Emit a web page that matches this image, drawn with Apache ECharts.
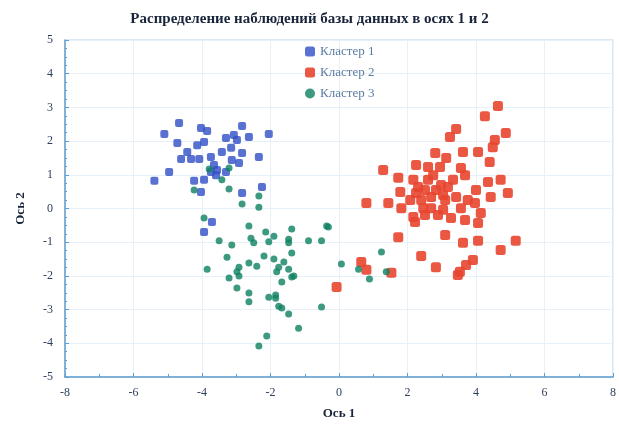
<!DOCTYPE html>
<html>
<head>
<meta charset="utf-8">
<script src="https://cdn.jsdelivr.net/npm/echarts@6/dist/echarts.min.js"></script>
<style>
    html, body { margin: 0; padding: 0; background: #ffffff; }
    #chart { width: 619px; height: 425px; }
</style>
</head>
<body>
<div id="chart"></div>
<script>
// Распределение наблюдений по осям 1 и 2
var seriesNames = ['Кластер 1', 'Кластер 2', 'Кластер 3'];

var cluster1 = [
    [-4.67, 2.54], [-5.10, 2.21], [-4.03, 2.39], [-3.85, 2.30], [-2.83, 2.45],
    [-4.72, 1.94], [-4.43, 1.68], [-4.14, 1.88], [-3.94, 1.97], [-3.30, 2.09],
    [-3.07, 2.18], [-2.98, 2.03], [-2.63, 2.12], [-2.05, 2.21], [-4.61, 1.47],
    [-4.32, 1.47], [-4.08, 1.47], [-3.74, 1.53], [-3.65, 1.29], [-3.42, 1.68],
    [-3.15, 1.80], [-2.83, 1.65], [-2.34, 1.53], [-3.13, 1.44], [-2.92, 1.35],
    [-3.56, 1.14], [-3.74, 1.08], [-3.30, 1.08], [-4.96, 1.08], [-5.39, 0.82],
    [-4.23, 0.82], [-3.94, 0.85], [-2.83, 0.46], [-2.25, 0.64], [-4.03, 0.49],
    [-3.59, 0.99], [-3.71, -0.40], [-3.94, -0.70]
];

var cluster2 = [
    [4.64, 3.04], [4.26, 2.74], [3.42, 2.36], [3.24, 2.12], [4.87, 2.24],
    [4.55, 2.03], [4.49, 1.82], [3.62, 1.68], [4.06, 1.68], [2.81, 1.65],
    [3.13, 1.50], [4.40, 1.38], [2.25, 1.29], [2.60, 1.23], [2.95, 1.23],
    [3.56, 1.20], [3.68, 0.99], [1.29, 1.14], [1.73, 0.91], [4.72, 0.85],
    [4.35, 0.79], [2.98, 0.70], [2.60, 0.85], [2.17, 0.85], [3.18, 0.64],
    [4.00, 0.55], [1.79, 0.49], [2.25, 0.46], [2.51, 0.55], [2.83, 0.55],
    [4.93, 0.46], [4.43, 0.34], [0.80, 0.16], [1.44, 0.16], [2.08, 0.25],
    [2.40, 0.25], [2.69, 0.34], [3.10, 0.25], [3.42, 0.34], [3.76, 0.25],
    [3.97, 0.16], [1.82, 0.01], [2.46, 0.01], [2.69, 0.01], [3.04, -0.04],
    [3.56, 0.01], [4.14, -0.13], [2.17, -0.25], [2.51, -0.19], [2.89, -0.19],
    [3.27, -0.28], [3.68, -0.34], [4.06, -0.43], [2.22, -0.40], [3.10, -0.79],
    [1.73, -0.85], [3.62, -1.02], [4.06, -0.96], [5.16, -0.96], [4.72, -1.23],
    [2.40, -1.41], [2.83, -1.74], [3.91, -1.53], [3.71, -1.68], [3.53, -1.88],
    [3.47, -1.97], [0.65, -1.59], [0.80, -1.82], [1.53, -1.91], [-0.07, -2.33],
    [2.75, 0.99], [3.33, 0.85], [2.31, 0.64], [3.04, 0.40]
];

var cluster3 = [
    [-2.83, 0.13], [-2.34, 0.04], [-3.94, -0.28], [-2.63, -0.52], [-0.36, -0.52],
    [-1.38, -0.61], [-2.14, -0.70], [-1.90, -0.82], [-2.57, -0.88], [-2.49, -1.02],
    [-2.05, -0.99], [-1.47, -0.91], [-1.47, -1.02], [-3.50, -0.96], [-0.89, -0.96],
    [-0.51, -0.96], [-3.13, -1.08], [-1.38, -1.32], [-3.27, -1.45], [-2.19, -1.41],
    [-1.90, -1.50], [-1.61, -1.59], [-3.85, -1.80], [-2.92, -1.74], [-2.63, -1.62],
    [-2.40, -1.71], [-2.98, -1.88], [-1.76, -1.74], [-1.47, -1.80], [-1.82, -1.88],
    [-1.32, -2.00], [0.07, -1.65], [0.57, -1.80], [-3.21, -2.06], [-2.92, -2.00],
    [-1.67, -2.18], [-1.38, -2.03], [-2.98, -2.36], [-2.63, -2.51], [-2.05, -2.63],
    [-1.85, -2.57], [-2.63, -2.77], [-1.85, -2.66], [-1.76, -2.90], [-1.67, -2.95],
    [-0.51, -2.92], [-1.47, -3.13], [-1.18, -3.55], [-2.11, -3.78], [-2.34, -4.08],
    [-3.79, 1.17], [-3.21, 1.20], [-3.42, 0.85], [-4.23, 0.55], [-3.21, 0.58],
    [-2.34, 0.37], [-0.31, -0.55], [1.24, -1.29], [0.89, -2.09], [1.38, -1.88]
];

var xMin = -8, xMax = 8, xStep = 2;
var yMin = -5, yMax = 5, yStep = 1;

var serif = '"Liberation Serif", "DejaVu Serif", serif';
var axisColor = '#5f9fcf';
var labelColor = '#2e3f5c';

var myChart = echarts.init(document.getElementById('chart'));
var option = {
    backgroundColor: '#ffffff',
    animation: false,
    title: {
        text: 'Распределение наблюдений базы данных в осях 1 и 2',
        left: 'center',
        top: 7,
        textStyle: {
            fontFamily: serif,
            fontWeight: 'bold',
            fontSize: 15,
            color: '#18243a'
        }
    },
    legend: {
        orient: 'vertical',
        left: 300,
        top: 40,
        itemGap: 8,
        itemWidth: 10,
        itemHeight: 10,
        textStyle: { fontFamily: serif, fontSize: 13, color: '#5a7ca0' },
        data: [
            { name: seriesNames[0], icon: 'roundRect' },
            { name: seriesNames[1], icon: 'roundRect' },
            { name: seriesNames[2], icon: 'circle' }
        ]
    },
    grid: {
        left: 65,
        right: 3,
        top: 40,
        bottom: 48,
        show: true,
        borderColor: '#b5d3ea',
        borderWidth: 1
    },
    xAxis: {
        type: 'value',
        min: xMin,
        max: xMax,
        interval: xStep,
        name: 'Ось 1',
        nameLocation: 'middle',
        nameGap: 30,
        nameTextStyle: { fontFamily: serif, fontWeight: 'bold', fontSize: 13, color: '#18243a' },
        axisLine: { show: true, onZero: false, lineStyle: { color: axisColor, width: 1.5 } },
        axisTick: { show: true, inside: true, length: 4, lineStyle: { color: axisColor } },
        minorTick: { show: true, splitNumber: 2, length: 3, lineStyle: { color: axisColor } },
        axisLabel: { fontFamily: serif, fontSize: 12, color: labelColor, margin: 10 },
        splitLine: { show: true, lineStyle: { color: '#e8f1f9', width: 1 } }
    },
    yAxis: {
        type: 'value',
        min: yMin,
        max: yMax,
        interval: yStep,
        name: 'Ось 2',
        nameLocation: 'middle',
        nameGap: 38,
        nameTextStyle: { fontFamily: serif, fontWeight: 'bold', fontSize: 13, color: '#18243a' },
        axisLine: { show: true, onZero: false, lineStyle: { color: axisColor, width: 1.5 } },
        axisTick: { show: true, inside: true, length: 4, lineStyle: { color: axisColor } },
        minorTick: { show: true, splitNumber: 4, length: 2, lineStyle: { color: axisColor } },
        axisLabel: { fontFamily: serif, fontSize: 12, color: labelColor, margin: 12 },
        splitLine: { show: true, lineStyle: { color: '#e8f1f9', width: 1 } }
    },
    series: [
        {
            name: seriesNames[0],
            type: 'scatter',
            symbol: 'roundRect',
            symbolSize: 8,
            itemStyle: { color: '#2f4fc6' },
            data: cluster1
        },
        {
            name: seriesNames[1],
            type: 'scatter',
            symbol: 'roundRect',
            symbolSize: 10,
            itemStyle: { color: '#e8452f', opacity: 0.9 },
            data: cluster2
        },
        {
            name: seriesNames[2],
            type: 'scatter',
            symbol: 'circle',
            symbolSize: 7,
            itemStyle: { color: '#0c8160' },
            data: cluster3
        }
    ]
};
myChart.setOption(option);
</script>
</body>
</html>
